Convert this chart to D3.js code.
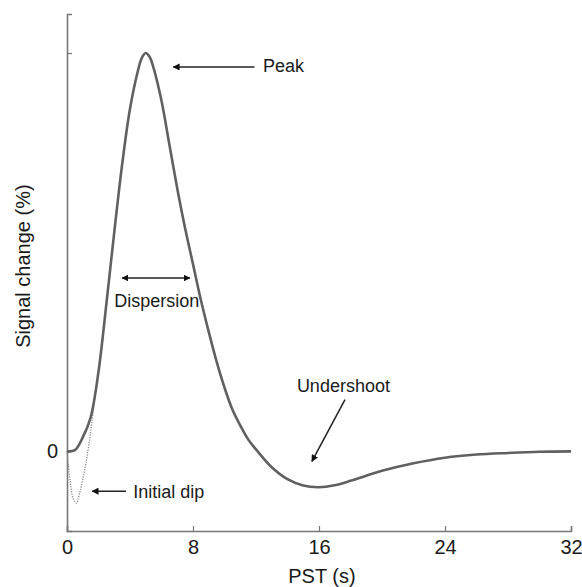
<!DOCTYPE html>
<html>
<head>
<meta charset="utf-8">
<script src="https://cdn.jsdelivr.net/npm/d3@7"></script>
<style>
  body { margin:0; background:#fff; }
  text { font-family:"Liberation Sans", Arial, sans-serif; fill:#1a1a1a; }
</style>
</head>
<body>
<div id="chart"></div>
<script>
// haemodynamic response
var pst    = [0, 0.5, 1, 1.5, 2, 2.5, 3, 3.5, 4, 4.5, 4.75, 5, 5.25, 5.5, 6, 6.5, 7, 7.5, 8, 8.5, 9, 9.5, 10, 10.5, 11, 11.5, 12, 13, 14, 15, 16, 17, 18, 19, 20, 22, 24, 26, 28, 30, 32]
var signal = [0, 0.003, 0.035, 0.085, 0.20, 0.37, 0.55, 0.72, 0.86, 0.955, 0.988, 1.0, 0.99, 0.962, 0.88, 0.77, 0.66, 0.56, 0.47, 0.38, 0.30, 0.225, 0.16, 0.105, 0.065, 0.03, 0.005, -0.04, -0.07, -0.086, -0.09, -0.085, -0.074, -0.061, -0.049, -0.03, -0.016, -0.008, -0.004, -0.001, 0]

// initial dip variant (dotted)
var dipPst    = [0, 0.2, 0.4, 0.6, 0.8, 1.0, 1.2, 1.4, 1.6, 1.75]
var dipSignal = [0, -0.075, -0.12, -0.13, -0.105, -0.07, -0.03, 0.02, 0.08, 0.13]

var xTicks = [0, 8, 16, 24, 32]
var yTicks = [0, 1]
var yTickLabels = ['0', '']

// annotations: text, text anchor point, arrow from / to (data units)
var notes = [
  { label:'Peak',        tx:12.45, ty:0.952, anchor:'start',  a:[11.9, 0.965, 6.75, 0.965], both:false },
  { label:'Dispersion',  tx:5.7,   ty:0.362, anchor:'middle', a:[3.5, 0.435, 7.8, 0.435],   both:true },
  { label:'Undershoot',  tx:17.55, ty:0.15,  anchor:'middle', a:[17.65, 0.13, 15.55, -0.025], both:false },
  { label:'Initial dip', tx:4.2,   ty:-0.117, anchor:'start',  a:[3.75, -0.1, 1.6, -0.1],    both:false }
]

var W = 582, H = 587
var m = { left:67, right:10, top:14, bottom:56 }

var x = d3.scaleLinear().domain([0, 32]).range([m.left, W - m.right - 1])
var y = d3.scaleLinear().domain([-0.2, 1.098]).range([H - m.bottom, m.top])

var svg = d3.select('#chart').append('svg')
    .attr('width', W)
    .attr('height', H)

var defs = svg.append('defs')
defs.append('marker')
    .attr('id', 'head')
    .attr('viewBox', '0 0 10 10')
    .attr('refX', 9).attr('refY', 5)
    .attr('markerWidth', 7).attr('markerHeight', 7)
    .attr('markerUnits', 'userSpaceOnUse')
    .attr('orient', 'auto-start-reverse')
  .append('path')
    .attr('d', 'M0,0 L10,5 L0,10 z')
    .attr('fill', '#111')

// axes, ticks pointing inward
var xAxis = d3.axisTop(x).tickValues(xTicks).tickSize(5).tickFormat(d3.format('d'))
var gx = svg.append('g')
    .attr('transform', 'translate(0,' + y(-0.2) + ')')
    .call(xAxis)
gx.select('.domain').attr('stroke', '#777').attr('stroke-width', 1.6)
gx.selectAll('.tick line').attr('stroke', '#777').attr('stroke-width', 1.2)
gx.selectAll('.tick text')
    .attr('y', 9)
    .attr('dy', '0.71em')
    .attr('font-size', 20)
    .attr('fill', '#1a1a1a')

var yAxis = d3.axisRight(y).tickValues(yTicks).tickSize(5).tickFormat((d, i)=> yTickLabels[i])
var gy = svg.append('g')
    .attr('transform', 'translate(' + x(0) + ',0)')
    .call(yAxis)
gy.select('.domain').attr('stroke', '#777').attr('stroke-width', 1.6)
gy.selectAll('.tick line').attr('stroke', '#777').attr('stroke-width', 1.2)
gy.selectAll('.tick text')
    .attr('x', -9)
    .attr('text-anchor', 'end')
    .attr('font-size', 20)
    .attr('fill', '#1a1a1a')
gx.attr('font-family', null); gy.attr('font-family', null)

svg.append('text')
    .attr('x', x(16) + 3)
    .attr('y', H - 4)
    .attr('text-anchor', 'middle')
    .attr('font-size', 20)
    .text('PST (s)')

svg.append('text')
    .attr('transform', 'translate(30,' + (y(0.47) + 2) + ') rotate(-90)')
    .attr('text-anchor', 'middle')
    .attr('font-size', 20)
    .text('Signal change (%)')

// curves
var line = d3.line()
    .x(d=> x(d[0]))
    .y(d=> y(d[1]))
    .curve(d3.curveCatmullRom.alpha(0.5))

svg.append('path')
    .datum(dipPst.map((t, i)=> [t, dipSignal[i]]))
    .attr('d', line)
    .attr('fill', 'none')
    .attr('stroke', '#8a8a8a')
    .attr('stroke-width', 1.3)
    .attr('stroke-dasharray', '1.2 1.3')

svg.append('path')
    .datum(pst.map((t, i)=> [t, signal[i]]))
    .attr('d', line)
    .attr('fill', 'none')
    .attr('stroke', '#606060')
    .attr('stroke-width', 2.6)

// annotations
var gn = svg.append('g')
gn.selectAll('line')
    .data(notes)
    .join('line')
    .attr('x1', d=> x(d.a[0])).attr('y1', d=> y(d.a[1]))
    .attr('x2', d=> x(d.a[2])).attr('y2', d=> y(d.a[3]))
    .attr('stroke', '#222')
    .attr('stroke-width', 1.5)
    .attr('marker-end', 'url(#head)')
    .attr('marker-start', d=> d.both ? 'url(#head)' : null)

gn.selectAll('text')
    .data(notes)
    .join('text')
    .attr('x', d=> x(d.tx))
    .attr('y', d=> y(d.ty))
    .attr('text-anchor', d=> d.anchor)
    .attr('font-size', 18)
    .text(d=> d.label)
</script>
</body>
</html>
